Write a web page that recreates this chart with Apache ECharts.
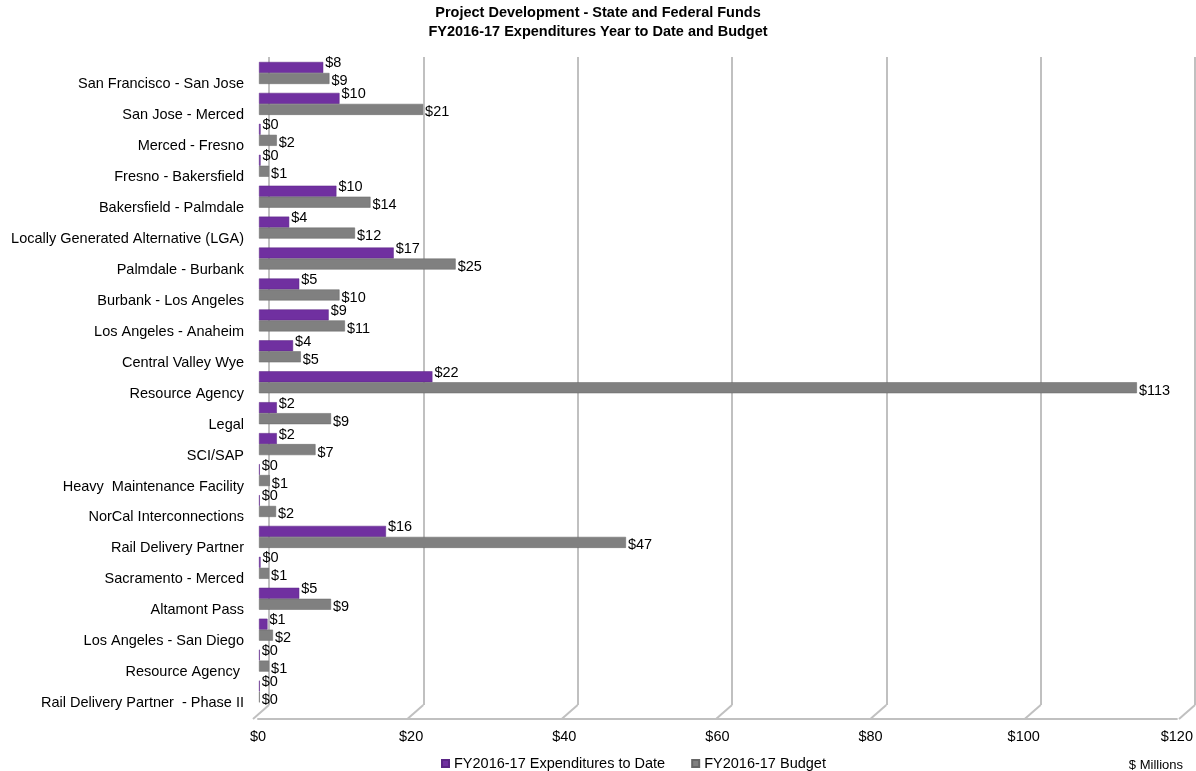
<!DOCTYPE html>
<html>
<head>
<meta charset="utf-8">
<script src="https://cdn.jsdelivr.net/npm/echarts@6/dist/echarts.min.js"></script>
<style>
html,body{margin:0;padding:0;background:#fff;}
#chart{width:1196px;height:771px;}
</style>
</head>
<body>
<div id="chart"></div>
<script>
const categories = [
  "San Francisco - San Jose",
  "San Jose - Merced",
  "Merced - Fresno",
  "Fresno - Bakersfield",
  "Bakersfield - Palmdale",
  "Locally Generated Alternative (LGA)",
  "Palmdale - Burbank",
  "Burbank - Los Angeles",
  "Los Angeles - Anaheim",
  "Central Valley Wye",
  "Resource Agency",
  "Legal",
  "SCI/SAP",
  "Heavy  Maintenance Facility",
  "NorCal Interconnections",
  "Rail Delivery Partner",
  "Sacramento - Merced",
  "Altamont Pass",
  "Los Angeles - San Diego",
  "Resource Agency ",
  "Rail Delivery Partner  - Phase II"
];
const expendituresToDate = [8.3, 10.4, 0.2, 0.2, 10.0, 3.9, 17.4, 5.2, 9.0, 4.4, 22.4, 2.3, 2.3, 0.1, 0.1, 16.4, 0.2, 5.2, 1.1, 0.1, 0.1];
const budget = [9.1, 21.2, 2.3, 1.3, 14.4, 12.4, 25.4, 10.4, 11.1, 5.4, 113.4, 9.3, 7.3, 1.4, 2.2, 47.4, 1.3, 9.3, 1.8, 1.3, 0.1];
const xTicks = [0, 20, 40, 60, 80, 100, 120];
const seriesNames = ["FY2016-17 Expenditures to Date", "FY2016-17 Budget"];
const titleLines = ["Project Development - State and Federal Funds", "FY2016-17 Expenditures Year to Date and Budget"];
const unitNote = "$ Millions";

const chart = echarts.init(document.getElementById('chart'));
const fontFamily = '"Liberation Sans", Arial, sans-serif';
const fmt = p => '$' + Math.round(p.value);
const gridColor = '#c0c0c0';
const FS = 14.5;

chart.setOption({
  animation: false,
  textStyle: { fontFamily: fontFamily },
  title: [{
    text: titleLines.join('\n'),
    left: 'center',
    top: -2,
    textStyle: { fontSize: FS, fontWeight: 'bold', color: '#000', lineHeight: 19, fontFamily: fontFamily }
  }, {
    text: unitNote,
    right: 8,
    bottom: -6,
    textStyle: { fontSize: 13, fontWeight: 'normal', color: '#000', fontFamily: fontFamily }
  }],
  legend: {
    bottom: -5,
    left: 436,
    itemWidth: 7,
    itemHeight: 7,
    itemGap: 26,
    icon: 'rect',
    textStyle: { fontSize: FS, color: '#000', fontFamily: fontFamily },
    data: seriesNames
  },
  grid: [
    { left: 259, right: 8, top: 57.5, bottom: 64 },   // bars
    { left: 269, right: 1, top: 57, bottom: 66 },     // back wall gridlines
    { left: 258, right: 18, top: 57, bottom: 52 }     // front floor / labels
  ],
  xAxis: [{
    gridIndex: 0, type: 'value', min: 0, max: 120, interval: 20, show: false
  }, {
    gridIndex: 1, type: 'value', min: 0, max: 120, interval: 20,
    axisLine: { show: false }, axisTick: { show: false }, axisLabel: { show: false },
    splitLine: { show: true, lineStyle: { color: gridColor, width: 2 } }
  }, {
    gridIndex: 2, type: 'value', min: 0, max: 120, interval: 20,
    axisLine: { show: true, lineStyle: { color: gridColor, width: 2 } },
    axisTick: { show: false },
    splitLine: { show: false },
    axisLabel: { formatter: v => '$' + v, fontSize: FS, color: '#000', margin: 10, fontFamily: fontFamily }
  }],
  yAxis: [{
    gridIndex: 0,
    type: 'category',
    inverse: true,
    data: categories,
    axisLine: { show: false },
    axisTick: { show: false },
    axisLabel: { fontSize: FS, color: '#000', margin: 15, verticalAlign: 'top', lineHeight: 23, fontFamily: fontFamily }
  }, {
    gridIndex: 1, type: 'value', min: 0, max: 1, show: false
  }, {
    gridIndex: 2, type: 'value', min: 0, max: 1, show: false
  }],
  series: [{
    name: seriesNames[0],
    type: 'bar',
    xAxisIndex: 0, yAxisIndex: 0,
    data: expendituresToDate,
    barWidth: 11,
    barGap: '0%',
    itemStyle: { color: '#7030A0', borderColor: '#5a2585', borderWidth: 0.5 },
    label: { show: true, position: 'right', distance: 2, offset: [0, -4], formatter: fmt, fontSize: FS, color: '#000', fontFamily: fontFamily }
  }, {
    name: seriesNames[1],
    type: 'bar',
    xAxisIndex: 0, yAxisIndex: 0,
    data: budget,
    barWidth: 11,
    barGap: '0%',
    itemStyle: { color: '#808080', borderColor: '#666', borderWidth: 0.5 },
    label: { show: true, position: 'right', distance: 2, offset: [0, 3], formatter: fmt, fontSize: FS, color: '#000', fontFamily: fontFamily }
  }, {
    type: 'custom',
    xAxisIndex: 1, yAxisIndex: 1,
    silent: true,
    z: 1,
    data: xTicks.map(v => [v, 0]),
    encode: { x: 0, y: 1 },
    renderItem: function (params, api) {
      const p = api.coord([api.value(0), 0]);
      return {
        type: 'line',
        shape: { x1: p[0], y1: p[1], x2: p[0] - 16, y2: p[1] + 14 },
        style: { stroke: gridColor, lineWidth: 2 }
      };
    }
  }]
});
</script>
</body>
</html>
